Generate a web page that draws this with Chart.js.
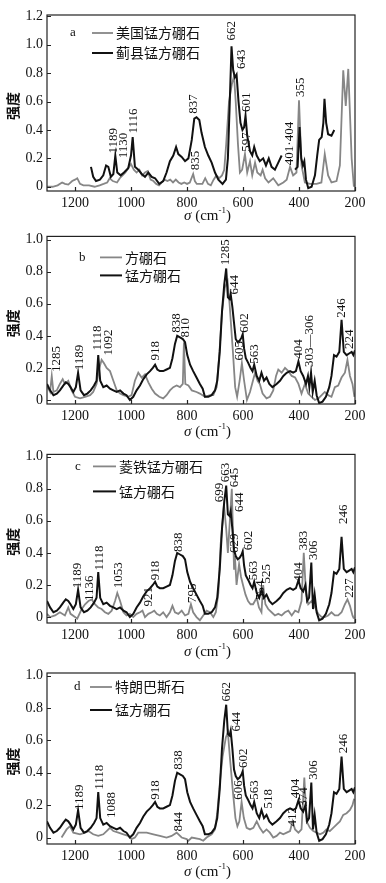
<!DOCTYPE html>
<html>
<head>
<meta charset="utf-8">
<script src="https://cdn.jsdelivr.net/npm/chart.js@4.4.1/dist/chart.umd.min.js"></script>
<style>
  body { margin: 0; background: #fff; width: 386px; height: 883px; position: relative; overflow: hidden; }
  canvas { position: absolute; left: 0; }
</style>
</head>
<body>
<canvas id="pa" width="386" height="224" style="top:0px"></canvas>
<canvas id="pb" width="386" height="218" style="top:224px"></canvas>
<canvas id="pc" width="386" height="218" style="top:442px"></canvas>
<canvas id="pd" width="386" height="223" style="top:660px"></canvas>
<script>
// wavenumber (cm-1) / relative intensity pairs
const xTickVals = [1200, 1000, 800, 600, 400, 200];
const yTicksA = [0, 0.2, 0.4, 0.6, 0.8, 1.0, 1.2];
const yTicksBCD = [0, 0.2, 0.4, 0.6, 0.8, 1.0];

// panel a
const usaMn = [[1300,0],[1280,0],[1262,0.01],[1246,0.03],[1236,0.02],[1224,0.015],[1210,0.04],[1200,0.05],[1192,0.06],[1182,0.02],[1170,0.01],[1150,0.01],[1130,0],[1112,0.01],[1098,0.02],[1085,0.03],[1076,0.06],[1065,0.04],[1050,0.03],[1040,0.06],[1030,0.08],[1020,0.1],[1010,0.13],[1000,0.16],[990,0.12],[980,0.1],[970,0.12],[960,0.08],[950,0.1],[940,0.11],[930,0.05],[920,0.04],[910,0.02],[900,0.01],[890,0.03],[880,0.05],[870,0.04],[860,0.05],[850,0.03],[840,0.05],[830,0.03],[820,0.02],[810,0.03],[800,0.02],[790,0.03],[778,0.09],[772,0.04],[765,0.02],[755,0.02],[745,0.02],[735,0.06],[725,0.02],[715,0.01],[705,0.05],[695,0.08],[685,0.06],[675,0.08],[667,0.12],[660,0.3],[650,0.6],[640,0.72],[632,0.78],[626,0.6],[618,0.3],[611,0.1],[603,0.12],[593,0.23],[585,0.1],[575,0.18],[567,0.08],[557,0.17],[549,0.1],[537,0.08],[530,0.12],[521,0.06],[509,0.03],[492,0.06],[474,0.01],[456,0.03],[444,0.05],[432,0.14],[421,0.08],[409,0.1],[400,0.61],[391,0.15],[379,0.03],[361,0.02],[337,0.02],[320,0.03],[308,0.23],[296,0.08],[284,0.03],[266,0.04],[254,0.15],[242,0.82],[233,0.57],[224,0.83],[212,0.2],[204,0]];
const jixianMn = [[1143,0.14],[1135,0.07],[1125,0.04],[1111,0.05],[1099,0.08],[1089,0.15],[1081,0.14],[1072,0.07],[1063,0.09],[1056,0.22],[1049,0.1],[1037,0.08],[1025,0.1],[1010,0.13],[1000,0.22],[994,0.35],[986,0.14],[974,0.12],[962,0.09],[950,0.07],[938,0.1],[926,0.07],[914,0.06],[899,0.02],[885,0.04],[873,0.1],[861,0.18],[849,0.22],[839,0.28],[831,0.23],[819,0.21],[807,0.18],[795,0.2],[783,0.33],[774,0.48],[766,0.49],[756,0.47],[748,0.38],[736,0.28],[724,0.22],[712,0.17],[700,0.1],[688,0.05],[673,0.02],[661,0.05],[654,0.2],[648,0.55],[641,0.99],[635,0.82],[629,0.77],[623,0.79],[616,0.6],[609,0.45],[602,0.4],[596,0.42],[591,0.5],[585,0.36],[575,0.25],[567,0.22],[560,0.28],[551,0.22],[540,0.18],[528,0.2],[518,0.15],[508,0.2],[498,0.14],[486,0.12],[474,0.17],[462,0.22],[440,null],[414,0.12],[405,0.14],[398,0.42],[392,0.2],[386,0.15],[381,0.18],[375,0.05],[367,-0.01],[355,0],[343,0.08],[335,0.22],[328,0.33],[319,0.35],[313,0.45],[309,0.62],[303,0.45],[296,0.37],[284,0.36],[274,0.4]];

// panel b
const fangpeng = [[1298,0.08],[1289,0.05],[1283,0.15],[1277,0.05],[1265,0.06],[1254,0.1],[1244,0.13],[1236,0.1],[1224,0.12],[1212,0.06],[1200,0.02],[1182,0.01],[1164,0.02],[1146,0.03],[1135,0.05],[1123,0.1],[1113,0.2],[1105,0.25],[1097,0.23],[1087,0.2],[1075,0.18],[1063,0.12],[1051,0.06],[1039,0.04],[1027,0.03],[1010,0.02],[998,0.03],[986,0.12],[974,0.17],[962,0.14],[950,0.16],[938,0.11],[926,0.07],[914,0.04],[899,0.02],[885,0.01],[873,0.03],[861,0.06],[849,0.08],[837,0.09],[825,0.08],[815,0.1],[811,0.36],[806,0.1],[795,0.09],[783,0.06],[766,0.05],[754,0.04],[736,0.02],[718,0.03],[706,0.03],[694,0.08],[684,0.3],[675,0.55],[665,0.7],[655,0.74],[648,0.6],[636,0.3],[628,0.08],[621,0.02],[612,0.12],[604,0.23],[596,0.12],[586,0],[575,0.05],[557,0.17],[548,0.12],[540,0.1],[530,0.04],[516,0.01],[504,0.02],[492,0.06],[482,0.15],[474,0.19],[462,0.17],[450,0.2],[438,0.18],[426,0.15],[414,0.14],[402,0.1],[391,0.04],[379,0.1],[367,0.04],[355,0.02],[343,0],[331,0.01],[319,0.03],[308,0.05],[296,0.03],[284,0.02],[272,0.08],[260,0.09],[248,0.14],[236,0.17],[227,0.25],[218,0.15],[209,0.1],[202,0.02]];
const mnBorB = [[1300,0.1],[1289,0.06],[1277,0.03],[1265,0.04],[1254,0.06],[1242,0.09],[1233,0.11],[1224,0.1],[1216,0.08],[1206,0.05],[1197,0.08],[1189,0.17],[1180,0.06],[1168,0.03],[1156,0.04],[1144,0.06],[1132,0.09],[1123,0.12],[1117,0.28],[1110,0.12],[1099,0.08],[1087,0.09],[1075,0.07],[1063,0.06],[1051,0.05],[1039,0.06],[1027,0.04],[1016,0.03],[1004,0],[992,0.02],[980,0.06],[968,0.09],[956,0.13],[944,0.16],[932,0.18],[922,0.2],[914,0.22],[906,0.19],[897,0.18],[885,0.18],[873,0.19],[861,0.2],[852,0.26],[843,0.35],[835,0.4],[825,0.39],[815,0.38],[807,0.36],[799,0.28],[789,0.22],[778,0.18],[766,0.14],[754,0.1],[744,0.07],[736,0.02],[724,0.02],[712,0.03],[700,0.06],[692,0.12],[683,0.3],[675,0.55],[667,0.72],[660,0.82],[654,0.64],[648,0.63],[644,0.66],[638,0.58],[632,0.48],[626,0.38],[619,0.36],[612,0.37],[605,0.39],[601,0.41],[596,0.32],[590,0.26],[581,0.23],[573,0.2],[566,0.18],[560,0.22],[551,0.15],[542,0.12],[534,0.17],[525,0.12],[516,0.14],[506,0.1],[495,0.08],[480,0.1],[468,0.12],[456,0.15],[444,0.17],[432,0.18],[421,0.17],[411,0.18],[402,0.24],[394,0.18],[385,0.15],[375,0.1],[368,0.15],[363,0.08],[357,0.17],[351,0.05],[344,0.12],[337,0.03],[328,-0.02],[316,-0.01],[304,0.02],[292,0.08],[284,0.15],[275,0.28],[266,0.27],[256,0.3],[248,0.5],[240,0.3],[230,0.28],[221,0.29],[212,0.3],[206,0.28],[200,0.31]];

// panels c and d share the same 锰方硼石 spectrum
const mnBor = [[1300,0.1],[1289,0.06],[1277,0.03],[1265,0.04],[1254,0.06],[1242,0.09],[1233,0.11],[1224,0.1],[1216,0.08],[1206,0.05],[1197,0.08],[1189,0.17],[1180,0.06],[1168,0.03],[1156,0.04],[1144,0.06],[1132,0.09],[1123,0.12],[1117,0.28],[1110,0.12],[1099,0.08],[1087,0.09],[1075,0.07],[1063,0.06],[1051,0.05],[1039,0.06],[1027,0.04],[1016,0.03],[1004,0],[992,0.02],[980,0.06],[968,0.09],[956,0.13],[944,0.16],[932,0.18],[922,0.2],[914,0.22],[906,0.19],[897,0.18],[885,0.18],[873,0.19],[861,0.2],[852,0.26],[843,0.35],[835,0.4],[825,0.39],[815,0.38],[807,0.36],[799,0.28],[789,0.22],[778,0.18],[766,0.14],[754,0.1],[744,0.07],[736,0.02],[724,0.02],[712,0.03],[700,0.06],[692,0.12],[683,0.3],[675,0.55],[667,0.72],[660,0.82],[654,0.64],[648,0.63],[644,0.66],[638,0.55],[632,0.42],[626,0.38],[619,0.36],[612,0.37],[605,0.39],[601,0.41],[596,0.32],[590,0.26],[581,0.23],[573,0.2],[566,0.18],[560,0.22],[551,0.15],[542,0.12],[534,0.17],[525,0.12],[516,0.14],[506,0.1],[495,0.08],[480,0.1],[468,0.12],[456,0.15],[444,0.17],[432,0.18],[421,0.17],[411,0.18],[402,0.23],[394,0.18],[385,0.16],[377,0.2],[371,0.1],[364,0.12],[356,0.34],[350,0.05],[344,0.14],[337,0.03],[328,-0.02],[316,-0.01],[304,0.02],[292,0.08],[284,0.15],[275,0.28],[266,0.27],[256,0.3],[248,0.5],[240,0.3],[230,0.28],[221,0.29],[212,0.3],[206,0.28],[200,0.31]];
const lingtie = [[1300,0.02],[1289,0],[1271,0.01],[1254,0.03],[1236,0.01],[1224,0.06],[1216,0.02],[1200,0],[1192,-0.01],[1176,0.05],[1164,0.08],[1152,0.1],[1140,0.11],[1129,0.08],[1117,0.06],[1105,0.05],[1093,0.03],[1081,0.02],[1069,0.04],[1057,0.1],[1049,0.15],[1039,0.1],[1027,0.03],[1016,0.01],[1004,0.02],[992,0],[980,0.02],[968,0.03],[959,0.04],[950,0],[938,0.02],[926,0.03],[917,0.04],[908,0.02],[897,0.01],[885,0.03],[873,0],[861,0.03],[852,0.07],[843,0.03],[831,0.02],[819,0.04],[807,0.01],[795,0.02],[786,0.08],[778,0.03],[766,0],[754,-0.02],[742,0.01],[730,0.04],[718,0.03],[706,0],[697,0.03],[688,0.15],[680,0.45],[668,0.7],[660,0.55],[654,0.4],[647,0.6],[640,0.8],[636,0.55],[632,0.3],[629,0.38],[623,0.2],[614,0.33],[607,0.25],[600,0.2],[591,0.14],[582,0.1],[573,0.08],[564,0.08],[551,0.12],[543,0.06],[534,0.03],[528,0.2],[520,0.08],[510,0.05],[498,0.03],[486,0.01],[474,0.02],[462,0.01],[450,0.03],[438,0.04],[426,0.01],[414,0.04],[402,0.03],[391,0.1],[383,0.4],[375,0.15],[367,0.08],[355,0.1],[343,0.06],[331,0.02],[319,0],[308,0],[296,0.01],[284,0.03],[272,0.01],[260,0.01],[248,0.03],[236,0.08],[227,0.11],[218,0.07],[209,0.01],[204,-0.01]];

// panel d
const telang = [[1248,0],[1230,0.05],[1218,0.07],[1206,0.03],[1182,0.02],[1164,0.03],[1152,0.04],[1135,0.02],[1117,0.01],[1099,0.02],[1087,0.04],[1075,0.06],[1063,0.04],[1045,0.03],[1027,0.02],[1010,0.01],[998,-0.01],[986,0],[974,0.03],[944,0.03],[920,0.02],[897,0.01],[873,0],[855,0.01],[837,0.03],[819,0],[801,-0.01],[795,-0.02],[783,0],[754,-0.01],[742,-0.02],[730,0],[712,0.02],[700,0.05],[692,0.15],[682,0.35],[673,0.5],[661,0.62],[654,0.65],[647,0.5],[637,0.3],[627,0.12],[620,0.07],[613,0.1],[605,0.22],[597,0.12],[587,0.06],[575,0.05],[563,0.06],[551,0.1],[540,0.06],[528,0.03],[516,0.05],[504,0.03],[492,0],[480,0.01],[468,0.03],[456,0.02],[444,0.03],[432,0.04],[423,0.1],[414,0.05],[402,0.03],[391,0.05],[381,0.37],[373,0.1],[361,0.06],[349,0.04],[337,0.03],[325,0.02],[313,0.03],[302,0.05],[290,0.04],[278,0.06],[266,0.08],[254,0.1],[242,0.14],[230,0.15],[218,0.17],[209,0.2],[203,0.24]];

// peak labels: text, wavenumber where the text stands, intensity at its lower end
const notesA = [["1189",1063,0.234],["1130",1028,0.2],["1116",992,0.375],["837",775,0.515],["835",771,0.117],["662",640,1.03],["643",605,0.83],["601",587,0.527],["597",587,0.246],["401·404",432,0.152],["355",396,0.633]];
const notesB = [["1285",1265,0.175],["1189",1182,0.185],["1118",1119,0.308],["1092",1081,0.277],["918",914,0.246],["838",837,0.42],["810",805,0.39],["1285",664,0.84],["644",629,0.657],["602",593,0.42],["605",613,0.246],["563",557,0.226],["404",402,0.257],["303—306",361,0.205],["246",248,0.513],["224",218,0.318]];
const notesC = [["1189",1190,0.18],["1136",1149,0.1],["1118",1111,0.29],["1053",1045,0.18],["921",938,0.066],["918",914,0.23],["838",831,0.406],["795",780,0.087],["699",682,0.715],["663",662,0.84],["645",629,0.81],["644",611,0.655],["629",629,0.4],["602",581,0.416],["563",563,0.23],["554",539,0.107],["525",515,0.21],["404",402,0.22],["383",385,0.416],["306",349,0.355],["246",242,0.58],["227",218,0.12]];
const notesD = [["1189",1182,0.17],["1118",1113,0.295],["1088",1069,0.12],["918",914,0.233],["844",831,0.037],["838",831,0.418],["662",658,0.84],["644",623,0.655],["602",599,0.43],["606",617,0.233],["563",557,0.233],["518",510,0.18],["412",424,0.068],["404",414,0.243],["374",382,0.19],["306",349,0.357],["246",242,0.52]];

const GRAY = "#868686";
const BLACK = "#111111";
const SERIF = "'Liberation Serif', 'DejaVu Serif', serif";
const CJK = "'Noto Sans CJK SC', sans-serif";

const deco = {
  id: "deco",
  afterDraw(chart, args, o) {
    const ctx = chart.ctx, ca = chart.chartArea;
    const xs = chart.scales.x, ys = chart.scales.y;
    ctx.save();
    // frame and inward ticks
    ctx.strokeStyle = "#222";
    ctx.lineWidth = 1.2;
    ctx.strokeRect(ca.left, ca.top, ca.right - ca.left, ca.bottom - ca.top);
    ctx.beginPath();
    xTickVals.forEach(v => {
      const px = Math.round(xs.getPixelForValue(v)) + 0.5;
      ctx.moveTo(px, ca.bottom); ctx.lineTo(px, ca.bottom - 4);
    });
    o.yTicks.forEach(v => {
      const py = Math.round(ys.getPixelForValue(v)) + 0.5;
      ctx.moveTo(ca.left, py); ctx.lineTo(ca.left + 4, py);
    });
    ctx.stroke();

    // peak labels, rotated
    ctx.fillStyle = "#111";
    ctx.font = "13px " + SERIF;
    ctx.textAlign = "left";
    ctx.textBaseline = "middle";
    o.notes.forEach(([t, x, y]) => {
      ctx.save();
      ctx.translate(xs.getPixelForValue(x), ys.getPixelForValue(y));
      ctx.rotate(-Math.PI / 2);
      ctx.fillText(t, 0, 0);
      ctx.restore();
    });

    // legend (gray row first, black row second)
    const L = o.legend;
    ctx.font = "13px " + SERIF;
    ctx.fillStyle = "#111";
    ctx.fillText(L.letter, L.lx, ca.top + L.y1);
    chart.data.datasets.forEach((ds, i) => {
      const y = ca.top + L.y1 + i * L.gap;
      ctx.strokeStyle = ds.borderColor;
      ctx.lineWidth = ds.borderWidth;
      ctx.beginPath(); ctx.moveTo(L.x0, y); ctx.lineTo(L.x1, y); ctx.stroke();
      ctx.font = "14px " + CJK;
      ctx.fillStyle = "#111";
      ctx.fillText(ds.label, L.x1 + 3, y);
    });

    // axis titles
    ctx.save();
    ctx.font = "bold 14px " + CJK;
    ctx.textAlign = "center";
    ctx.translate(13, (ca.top + ca.bottom) / 2 + 3);
    ctx.rotate(-Math.PI / 2);
    ctx.fillText("强度", 0, 0);
    ctx.restore();

    const ty = ca.bottom + o.titleGap;
    let tx = 184;
    ctx.textAlign = "left";
    ctx.font = "italic 15px " + SERIF;
    ctx.fillText("σ", tx, ty); tx += ctx.measureText("σ ").width;
    ctx.font = "15px " + SERIF;
    ctx.fillText("(cm", tx, ty); tx += ctx.measureText("(cm").width;
    ctx.font = "9px " + SERIF;
    ctx.fillText("-1", tx, ty - 5); tx += ctx.measureText("-1").width;
    ctx.font = "15px " + SERIF;
    ctx.fillText(")", tx, ty);
    ctx.restore();
  }
};

function makePanel(id, grayLabel, grayData, blackLabel, blackData, cfg) {
  const canvas = document.getElementById(id);
  new Chart(canvas, {
    type: "line",
    data: {
      datasets: [
        { label: grayLabel, data: grayData, borderColor: GRAY, borderWidth: 1.8, pointRadius: 0, order: 1 },
        { label: blackLabel, data: blackData, borderColor: BLACK, borderWidth: 2, pointRadius: 0, order: 0 }
      ]
    },
    options: {
      responsive: false,
      animation: false,
      events: [],
      spanGaps: false,
      layout: { padding: { top: cfg.top, right: 31, left: 0, bottom: 0 } },
      scales: {
        x: {
          type: "linear", reverse: true, min: 200, max: 1300,
          grid: { display: false, drawTicks: false },
          border: { display: false },
          afterBuildTicks: s => { s.ticks = xTickVals.map(v => ({ value: v })); },
          afterFit: s => { s.height = canvas.height - cfg.bottom; },
          ticks: {
            color: "#111", padding: 4, maxRotation: 0, font: { family: SERIF, size: 14 },
            callback: v => String(v)
          }
        },
        y: {
          min: cfg.ymin, max: cfg.ymax,
          grid: { display: false, drawTicks: false },
          border: { display: false },
          afterBuildTicks: s => { s.ticks = cfg.yTicks.map(v => ({ value: v })); },
          afterFit: s => { s.width = 47; },
          ticks: {
            color: "#111", padding: 4, font: { family: SERIF, size: 14 },
            callback: v => (v === 0 ? "0" : v.toFixed(1))
          }
        }
      },
      plugins: {
        legend: { display: false },
        tooltip: { enabled: false },
        deco: { yTicks: cfg.yTicks, notes: cfg.notes, legend: cfg.legend, titleGap: cfg.titleGap }
      }
    },
    plugins: [deco]
  });
}

makePanel("pa", "美国锰方硼石", usaMn, "蓟县锰方硼石", jixianMn, {
  top: 15, bottom: 191, ymin: -0.03, ymax: 1.21, yTicks: yTicksA, notes: notesA, titleGap: 25,
  legend: { letter: "a", lx: 70, y1: 18, gap: 20, x0: 92, x1: 113 }
});
makePanel("pb", "方硼石", fangpeng, "锰方硼石", mnBorB, {
  top: 10, bottom: 180, ymin: -0.025, ymax: 1.02, yTicks: yTicksBCD, notes: notesB, titleGap: 28,
  legend: { letter: "b", lx: 79, y1: 21, gap: 18, x0: 100, x1: 122 }
});
makePanel("pc", "菱铁锰方硼石", lingtie, "锰方硼石", mnBor, {
  top: 11, bottom: 181, ymin: -0.037, ymax: 1.014, yTicks: yTicksBCD, notes: notesC, titleGap: 29,
  legend: { letter: "c", lx: 75, y1: 12, gap: 25, x0: 93, x1: 116 }
});
makePanel("pd", "特朗巴斯石", telang, "锰方硼石", mnBor, {
  top: 13, bottom: 184, ymin: -0.04, ymax: 1.016, yTicks: yTicksBCD, notes: notesD, titleGap: 28,
  legend: { letter: "d", lx: 74, y1: 14, gap: 23, x0: 90, x1: 112 }
});
</script>
</body>
</html>
